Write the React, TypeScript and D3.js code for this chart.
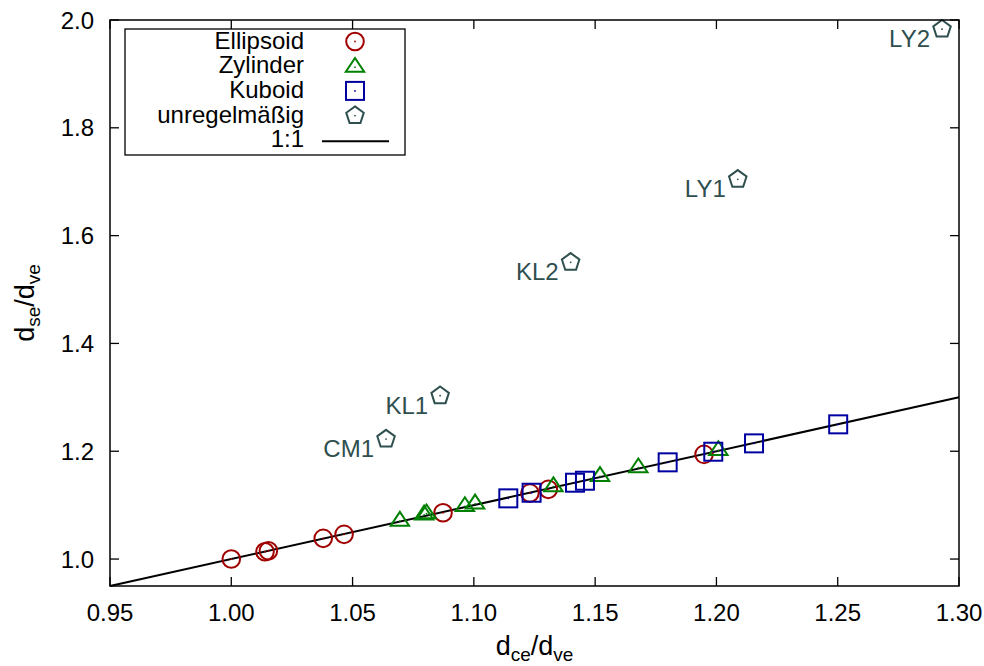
import React from "react";
import * as d3 from "d3";

// Shape ratios d_ce/d_ve (x) and d_se/d_ve (y) per particle class
const ellipsoidX = [1.0, 1.0139, 1.0153, 1.0379, 1.0465, 1.0873, 1.1231, 1.1307, 1.1949];
const ellipsoidY = [1.0, 1.0135, 1.0154, 1.0384, 1.0458, 1.0859, 1.1224, 1.1293, 1.1942];

const zylinderX = [1.0695, 1.0795, 1.0805, 1.0963, 1.1005, 1.1328, 1.152, 1.1678, 1.2008];
const zylinderY = [1.0705, 1.082, 1.084, 1.0975, 1.1025, 1.1345, 1.1535, 1.1695, 1.2015];

const kuboidX = [1.1142, 1.1238, 1.1417, 1.1458, 1.1799, 1.1987, 1.2155, 1.2502];
const kuboidY = [1.1126, 1.123, 1.1416, 1.1453, 1.1794, 1.1991, 1.2146, 1.2499];

const irregularNames = ["CM1", "KL1", "KL2", "LY1", "LY2"];
const irregularX = [1.0638, 1.0861, 1.1399, 1.2088, 1.293];
const irregularY = [1.2226, 1.303, 1.5505, 1.7045, 1.983];

const xTicks = [0.95, 1.0, 1.05, 1.1, 1.15, 1.2, 1.25, 1.3];
const yTicks = [1.0, 1.2, 1.4, 1.6, 1.8, 2.0];

const legendLabels = ["Ellipsoid", "Zylinder", "Kuboid", "unregelmäßig", "1:1"];

const RED = "#a00000";
const GREEN = "#008000";
const BLUE = "#0000a0";
const SLATE = "#2f4f4f";
const FONT = "'Liberation Sans', Arial, Helvetica, sans-serif";

const W = 984;
const H = 666;
const left = 110;
const right = 959;
const top = 20;
const bottom = 586;

const x = d3.scaleLinear().domain([0.95, 1.3]).range([left, right]);
const y = d3.scaleLinear().domain([0.95, 2.0]).range([bottom, top]);

const SW = 2;
const FS = 24;

function Circle({ cx, cy, color }: { cx: number; cy: number; color: string }) {
  return (
    <g>
      <circle cx={cx} cy={cy} r={8.8} fill="none" stroke={color} strokeWidth={SW} />
      <circle cx={cx} cy={cy} r={0.9} fill={color} />
    </g>
  );
}

function Triangle({ cx, cy, color }: { cx: number; cy: number; color: string }) {
  const pts = [
    [cx, cy - 9.2],
    [cx - 9.2, cy + 4.6],
    [cx + 9.2, cy + 4.6],
  ];
  return (
    <g>
      <polygon points={pts.map((p) => p.join(",")).join(" ")} fill="none" stroke={color} strokeWidth={SW} />
      <circle cx={cx} cy={cy} r={0.9} fill={color} />
    </g>
  );
}

function Square({ cx, cy, color }: { cx: number; cy: number; color: string }) {
  const s = 18;
  return (
    <g>
      <rect x={cx - s / 2} y={cy - s / 2} width={s} height={s} fill="none" stroke={color} strokeWidth={SW} />
      <circle cx={cx} cy={cy} r={0.9} fill={color} />
    </g>
  );
}

function Pentagon({ cx, cy, color }: { cx: number; cy: number; color: string }) {
  const R = 9.2;
  const pts = d3.range(5).map((k) => {
    const a = (-90 + 72 * k) * (Math.PI / 180);
    return [cx + R * Math.cos(a), cy + R * Math.sin(a)];
  });
  return (
    <g>
      <polygon points={pts.map((p) => p.join(",")).join(" ")} fill="none" stroke={color} strokeWidth={SW} />
      <circle cx={cx} cy={cy} r={0.9} fill={color} />
    </g>
  );
}

export default function App() {
  const tickLen = 9;
  const oneToOne = d3
    .line<number>()
    .x((d) => x(d))
    .y((d) => y(d))([0.95, 1.3]);

  const legendBaselines = legendLabels.map((_, i) => 48.5 + i * 24.7);
  const legendTextX = 304;
  const legendSymX = 355;

  return (
    <svg
      width={W}
      height={H}
      viewBox={`0 0 ${W} ${H}`}
      style={{ position: "absolute", left: 0, top: 0, background: "#fff" }}
      fontFamily={FONT}
    >
      <rect x={0} y={0} width={W} height={H} fill="#fff" />

      {/* tick marks on all four sides, pointing inward */}
      <g stroke="#000" strokeWidth={1.3}>
        {xTicks.map((t) => (
          <g key={`xt${t}`}>
            <line x1={x(t)} x2={x(t)} y1={bottom} y2={bottom - tickLen} />
            <line x1={x(t)} x2={x(t)} y1={top} y2={top + tickLen} />
          </g>
        ))}
        {yTicks.map((t) => (
          <g key={`yt${t}`}>
            <line x1={left} x2={left + tickLen} y1={y(t)} y2={y(t)} />
            <line x1={right} x2={right - tickLen} y1={y(t)} y2={y(t)} />
          </g>
        ))}
      </g>

      {/* tick labels */}
      <g fontSize={FS} fill="#000">
        {xTicks.map((t) => (
          <text key={`xl${t}`} x={x(t)} y={621} textAnchor="middle">
            {d3.format(".2f")(t)}
          </text>
        ))}
        {yTicks.map((t) => (
          <text key={`yl${t}`} x={94} y={y(t) + 8.5} textAnchor="end">
            {d3.format(".1f")(t)}
          </text>
        ))}
      </g>

      {/* axis titles */}
      <text x={(left + right) / 2} y={655} textAnchor="middle" fontSize={27} fill="#000">
        d<tspan fontSize={19} dy={6}>ce</tspan>
        <tspan dy={-6}>/d</tspan>
        <tspan fontSize={19} dy={6}>ve</tspan>
      </text>
      <text
        transform={`translate(34, ${(top + bottom) / 2}) rotate(-90)`}
        textAnchor="middle"
        fontSize={27}
        fill="#000"
      >
        d<tspan fontSize={19} dy={6}>se</tspan>
        <tspan dy={-6}>/d</tspan>
        <tspan fontSize={19} dy={6}>ve</tspan>
      </text>

      {/* 1:1 reference line */}
      <path d={oneToOne ?? ""} stroke="#000" strokeWidth={2} fill="none" />

      {/* data */}
      {ellipsoidX.map((v, i) => (
        <Circle key={`e${i}`} cx={x(v)} cy={y(ellipsoidY[i])} color={RED} />
      ))}
      {zylinderX.map((v, i) => (
        <Triangle key={`z${i}`} cx={x(v)} cy={y(zylinderY[i])} color={GREEN} />
      ))}
      {kuboidX.map((v, i) => (
        <Square key={`k${i}`} cx={x(v)} cy={y(kuboidY[i])} color={BLUE} />
      ))}
      {irregularX.map((v, i) => (
        <g key={`u${i}`}>
          <Pentagon cx={x(v)} cy={y(irregularY[i])} color={SLATE} />
          <text
            x={x(v) - 12}
            y={y(irregularY[i]) + 18}
            textAnchor="end"
            fontSize={FS}
            fill={SLATE}
          >
            {irregularNames[i]}
          </text>
        </g>
      ))}

      {/* legend */}
      <rect x={125} y={29} width={280} height={126} fill="#fff" stroke="#000" strokeWidth={1.3} />
      <g fontSize={FS} fill="#000">
        {legendLabels.map((lab, i) => (
          <text key={lab} x={legendTextX} y={legendBaselines[i]} textAnchor="end">
            {lab}
          </text>
        ))}
      </g>
      <Circle cx={legendSymX} cy={legendBaselines[0] - 7} color={RED} />
      <Triangle cx={legendSymX} cy={legendBaselines[1] - 6} color={GREEN} />
      <Square cx={legendSymX} cy={legendBaselines[2] - 7} color={BLUE} />
      <Pentagon cx={legendSymX} cy={legendBaselines[3] - 7} color={SLATE} />
      <line x1={322} x2={389} y1={legendBaselines[4] - 6} y2={legendBaselines[4] - 6} stroke="#000" strokeWidth={2} />

      {/* plot frame */}
      <rect x={left} y={top} width={right - left} height={bottom - top} fill="none" stroke="#000" strokeWidth={1.5} />
    </svg>
  );
}
